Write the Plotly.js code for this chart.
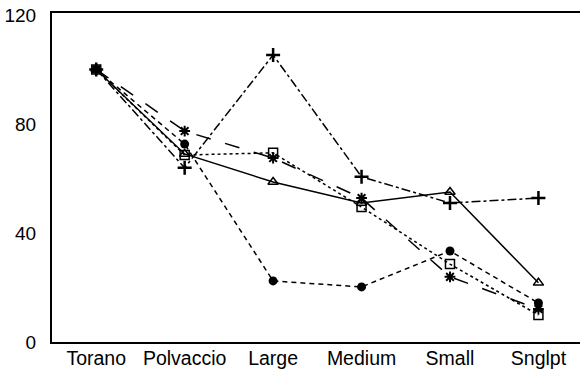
<!DOCTYPE html>
<html>
<head>
<meta charset="utf-8">
<script src="https://cdn.plot.ly/plotly-3.0.1.min.js"></script>
<style>html,body{margin:0;padding:0;background:#fff;}#chart{width:580px;height:373px;}</style>
</head>
<body>
<div id="chart"></div>
<script>
const categories = ["Torano", "Polvaccio", "Large", "Medium", "Small", "Snglpt"];
const triangleSeries = [100, 69, 58.7, 51, 55, 21.7];
const circleSeries = [100, 72.6, 22.4, 20.2, 33.4, 14.3];
const squareSeries = [100, 68.6, 69.4, 49.5, 28.6, 9.9];
const asteriskSeries = [100, 77.4, 67.5, 52.8, 23.9, 12.1];
const plusSeries = [100, 63.9, 105.3, 60.6, 51, 52.8];
const yTicks = [0, 40, 80, 120];

function tr(y, dash, symbol, size, lw) {
  return {
    x: categories, y: y, type: "scatter", mode: "lines+markers",
    line: {color: "#000", width: 1.5, dash: dash},
    marker: {symbol: symbol, size: size, color: "#000", line: {color: "#000", width: lw}},
    cliponaxis: false, showlegend: false
  };
}

const data = [
  tr(triangleSeries, "solid", "triangle-up-open", 9, 1.5),
  tr(circleSeries, "5px,4px", "circle", 9, 0),
  tr(squareSeries, "dot", "square-open", 9, 1.5),
  tr(asteriskSeries, "longdash", "asterisk-open", 9, 2),
  tr(plusSeries, "dashdot", "cross-thin-open", 10, 2.5)
];

const layout = {
  width: 580, height: 373,
  margin: {l: 52, r: 0, t: 13, b: 31},
  paper_bgcolor: "#fff", plot_bgcolor: "#fff",
  font: {family: "Liberation Sans, Arial, sans-serif", color: "#000", size: 19},
  xaxis: {
    type: "category", range: [-0.5, 5.47],
    showline: true, mirror: true, linecolor: "#000", linewidth: 2,
    showgrid: false, zeroline: false, ticks: "",
    tickfont: {size: 19.5}, ticklabelstandoff: -2
  },
  yaxis: {
    range: [0, 120.7], tickvals: yTicks, ticktext: yTicks.map(String),
    showline: true, mirror: false, linecolor: "#000", linewidth: 2,
    showgrid: false, zeroline: false, ticks: "",
    tickfont: {size: 19}, ticklabelstandoff: 10
  }
};

Plotly.newPlot("chart", data, layout, {staticPlot: true, displayModeBar: false});
</script>
</body>
</html>
